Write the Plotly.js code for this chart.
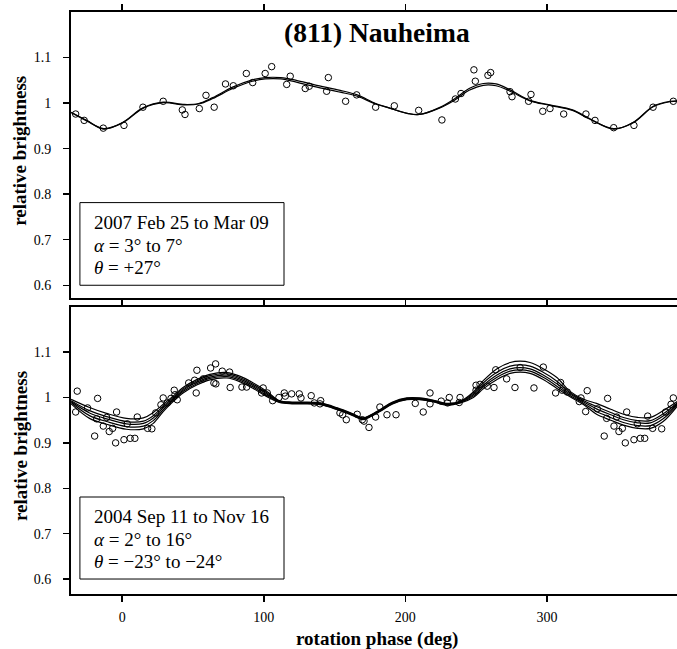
<!DOCTYPE html>
<html><head><meta charset="utf-8">
<script src="https://cdn.plot.ly/plotly-3.0.1.min.js"></script>
<style>html,body{margin:0;padding:0;overflow:hidden;background:#fff}</style>
</head><body><div id="chart" style="width:677px;height:649px"></div>
<script>
// ---- data ----
const xTickVals = [0, 100, 200, 300];
const yTickVals = [0.6, 0.7, 0.8, 0.9, 1.0, 1.1];
const yTickText = ['0.6', '0.7', '0.8', '0.9', '1', '1.1'];

// top panel: 2007 Feb 25 to Mar 09
const topPhase = [-32.8,-26.8,-13.3,1.3,14.7,29,42.5,44.4,54.5,59.2,65,73,78.5,87.7,92.2,101,105.6,116.2,118.7,129.3,132.1,144.4,145.6,157.8,165.6,179,192.2,209.4,225.8,235.3,239.3,248.4,249.4,258.3,260.2,273.9,275.3,287,288.7,297,302.1,311.8,327.5,333.9,347.1,361.4,374.9,389.2];
const topBright = [0.976,0.962,0.945,0.951,0.991,1.004,0.985,0.975,0.988,1.017,0.991,1.042,1.038,1.065,1.045,1.065,1.080,1.041,1.059,1.032,1.037,1.026,1.056,1.004,1.018,0.991,0.994,0.984,0.963,1.009,1.021,1.073,1.048,1.061,1.067,1.025,1.014,1.004,1.019,0.982,0.988,0.976,0.976,0.962,0.946,0.951,0.991,1.004];
const topCurvePhase = [-36,-25,-13,0,15,29,44,54,64,78,92,101,112,123,136,154,166,179,189,202,210,224,235,245,255,264,274,288,302,318,330,347,361,375,387,392];
const topCurveA = [0.980,0.962,0.943,0.957,0.990,1.002,0.997,0.999,1.012,1.035,1.051,1.056,1.056,1.050,1.040,1.028,1.018,0.999,0.989,0.977,0.975,0.990,1.010,1.032,1.043,1.042,1.029,1.006,0.996,0.985,0.966,0.943,0.958,0.993,1.004,1.005];
const topCurveB = [0.979,0.961,0.944,0.956,0.989,1.001,0.996,0.998,1.010,1.032,1.048,1.053,1.053,1.046,1.036,1.024,1.015,0.998,0.989,0.977,0.975,0.989,1.007,1.028,1.039,1.038,1.026,1.005,0.995,0.984,0.965,0.944,0.957,0.992,1.003,1.004];

// bottom panel: 2004 Sep 11 to Nov 16
const botPhase = [-31.7,-32.8,-24.4,-17.3,-18,-19.4,-13.3,-10.9,-9.1,-6.7,-3.9,-4.6,1.3,5.7,9,3.6,10.7,18,21,23.7,27.4,29,31.9,34.5,36.8,37.3,38.9,47,51.2,52.3,52.8,57.3,62.5,66,64.8,66.2,70.7,75.9,76.3,84.6,87.9,99.6,98.5,102.5,106.3,110.7,
  114.5,115.2,119.7,125.1,126.3,133.5,135.7,139.7,140.2,153.8,155.7,158.3,166,169.6,170.8,174.3,179,182,187,193.4,207,212.6,217.4,217.4,225.3,229.8,231,238,238.6,249.9,249.9,
  252.7,257.8,262.6,263.8,271.5,277.4,281,290.8,297.4,306.1,309.6,310.8,314.3,322.8,324,327.3,328.4,335.5,342.1,342.8,340.4,347.3,349.2,350.8,353.2,356.3,355.3,361.4,365.9,369,363.8,371.1,374.6,381,383.8,387.6,389.2];
const botBright = [1.014,0.968,0.977,0.998,0.953,0.915,0.937,0.956,0.925,0.932,0.968,0.900,0.907,0.910,0.910,0.942,0.957,0.932,0.931,0.966,0.984,0.999,0.988,0.998,1.016,1.006,0.995,1.032,1.038,1.010,1.060,1.041,1.065,1.074,1.032,1.030,1.058,1.056,1.022,1.023,1.023,1.021,1.010,1.010,0.993,1.000,
  1.010,1.003,1.008,1.008,0.999,1.004,0.988,0.986,0.993,0.966,0.962,0.951,0.963,0.951,0.948,0.934,0.957,0.979,0.962,0.962,0.987,0.968,1.010,0.986,0.992,0.988,1.000,0.989,1.000,1.027,1.016,
  1.029,1.025,1.022,1.061,1.041,1.022,1.066,1.021,1.067,1.010,1.033,1.016,1.012,0.991,0.999,0.969,1.015,0.975,0.954,0.998,0.915,0.937,0.957,0.925,0.932,0.968,0.900,0.907,0.910,0.910,0.942,0.959,0.932,0.931,0.968,0.985,0.999];
const botCurvePhase = [-36,-23,-11,3,15,22,29,36,43,53,62,74,83,92,102,111,120,128,140,152,163,170,175,182,191,201,210,220,229,239,248,255,265,274,281,288,297,307,316,326,335,345,354,364,373,382,392];
const botCurve1 = [0.996,0.978,0.965,0.954,0.955,0.967,0.985,1.003,1.022,1.040,1.051,1.055,1.047,1.033,1.014,0.993,0.990,0.990,0.988,0.977,0.964,0.955,0.961,0.973,0.990,0.999,0.999,0.994,0.987,0.992,1.012,1.037,1.064,1.077,1.080,1.077,1.064,1.044,1.014,0.996,0.987,0.974,0.963,0.956,0.956,0.971,0.991];
const botCurve2 = [0.993,0.971,0.958,0.947,0.948,0.960,0.981,1.000,1.019,1.037,1.048,1.052,1.044,1.030,1.011,0.992,0.989,0.989,0.987,0.976,0.963,0.954,0.960,0.972,0.989,0.998,0.998,0.993,0.986,0.991,1.009,1.032,1.056,1.069,1.072,1.069,1.056,1.036,1.011,0.993,0.980,0.967,0.956,0.949,0.949,0.964,0.988];
const botCurve3 = [0.991,0.966,0.953,0.942,0.943,0.955,0.977,0.997,1.016,1.034,1.045,1.049,1.041,1.027,1.008,0.991,0.988,0.988,0.986,0.975,0.962,0.953,0.959,0.971,0.988,0.997,0.997,0.992,0.985,0.990,1.006,1.027,1.050,1.063,1.066,1.063,1.050,1.030,1.008,0.990,0.975,0.962,0.951,0.944,0.944,0.959,0.986];
const botCurve4 = [0.989,0.960,0.947,0.936,0.937,0.949,0.973,0.994,1.013,1.031,1.042,1.046,1.038,1.024,1.005,0.990,0.987,0.987,0.985,0.974,0.961,0.952,0.958,0.970,0.987,0.996,0.996,0.991,0.984,0.989,1.003,1.023,1.045,1.058,1.061,1.058,1.045,1.025,1.005,0.987,0.969,0.956,0.945,0.938,0.938,0.953,0.984];
const botCurve5 = [0.986,0.954,0.941,0.930,0.931,0.943,0.969,0.991,1.010,1.028,1.039,1.043,1.035,1.021,1.002,0.989,0.986,0.986,0.984,0.973,0.960,0.951,0.957,0.969,0.986,0.995,0.995,0.990,0.983,0.988,1.000,1.019,1.040,1.053,1.056,1.053,1.040,1.020,1.002,0.984,0.963,0.950,0.939,0.932,0.932,0.947,0.981];

const topLegend = ['2007 Feb 25 to Mar 09', '<i>α</i> = 3° to 7°', '<i>θ</i> = +27°'];
const botLegend = ['2004 Sep 11 to Nov 16', '<i>α</i> = 2° to 16°', '<i>θ</i> = −23° to −24°'];

// ---- build ----
const SERIF = 'Liberation Serif, Times New Roman, serif';
const marker = {symbol: 'circle-open', size: 6.5, color: '#000', line: {width: 1, color: '#000'}};
const lineStyle = {color: '#000', width: 1.2, shape: 'spline', smoothing: 1};

const traces = [];
[topCurveA, topCurveB].forEach(c => traces.push({x: topCurvePhase, y: c, xaxis: 'x2', yaxis: 'y2', mode: 'lines', line: lineStyle, hoverinfo: 'skip'}));
traces.push({x: topPhase, y: topBright, xaxis: 'x2', yaxis: 'y2', mode: 'markers', marker: marker});
[botCurve1, botCurve2, botCurve3, botCurve4, botCurve5].forEach(c => traces.push({x: botCurvePhase, y: c, xaxis: 'x', yaxis: 'y', mode: 'lines', line: lineStyle, hoverinfo: 'skip'}));
traces.push({x: botPhase, y: botBright, xaxis: 'x', yaxis: 'y', mode: 'markers', marker: marker});

const xBase = {
  range: [-36.1, 391.8], tickvals: xTickVals, ticks: 'outside', ticklen: 6, tickwidth: 1.5, tickcolor: '#000',
  showline: true, linewidth: 2, linecolor: '#000', mirror: 'ticks', showgrid: false, zeroline: false,
  tickfont: {family: SERIF, size: 14, color: '#000'}, ticklabelstandoff: 3
};
const yBase = {
  tickvals: yTickVals, ticktext: yTickText, ticks: 'outside', ticklen: 6, tickwidth: 1.5, tickcolor: '#000',
  showline: true, linewidth: 2, linecolor: '#000', mirror: false, showgrid: false, zeroline: false,
  tickfont: {family: SERIF, size: 14, color: '#000'}, ticklabelstandoff: 9
};

const annotations = [];
function legendLines(lines, yref) {
  const ys = [0.7385, 0.6875, 0.639];
  lines.forEach((t, i) => annotations.push({
    text: t, xref: yref === 'y' ? 'x' : 'x2', yref: yref, x: -21.5, y: ys[i],
    xanchor: 'left', yanchor: 'middle', showarrow: false, font: {family: SERIF, size: 19, color: '#000'}
  }));
}
legendLines(topLegend, 'y2');
legendLines(botLegend, 'y');
annotations.push({text: '<b>(811) Nauheima</b>', xref: 'paper', yref: 'paper', x: 0.5045, y: 0.964,
  xanchor: 'center', yanchor: 'middle', showarrow: false, font: {family: SERIF, size: 27.5, color: '#000'}});
annotations.push({text: '<b>rotation phase (deg)</b>', xref: 'paper', yref: 'paper', x: 0.505, y: -0.0775,
  xanchor: 'center', yanchor: 'middle', showarrow: false, font: {family: SERIF, size: 19, color: '#000'}});
['y2 domain', 'y domain'].forEach(r => annotations.push({text: '<b>relative brightness</b>', xref: 'paper', yref: r,
  x: -0.0842, y: 0.515, xanchor: 'center', yanchor: 'middle', textangle: -90, showarrow: false,
  font: {family: SERIF, size: 19, color: '#000'}}));

const shapes = [
  {type: 'rect', xref: 'x2', yref: 'y2', x0: -29.8, x1: 114.3, y0: 0.6, y1: 0.7815, line: {color: '#000', width: 1}, fillcolor: 'rgba(0,0,0,0)'},
  {type: 'rect', xref: 'x', yref: 'y', x0: -29.8, x1: 114.3, y0: 0.6, y1: 0.7807, line: {color: '#000', width: 1}, fillcolor: 'rgba(0,0,0,0)'}
];

const layout = {
  width: 677, height: 649, showlegend: false,
  margin: {l: 71, r: 0, t: 12, b: 55},
  paper_bgcolor: '#fff', plot_bgcolor: '#fff',
  xaxis: Object.assign({}, xBase, {anchor: 'y'}),
  xaxis2: Object.assign({}, xBase, {anchor: 'y2', matches: 'x', showticklabels: false}),
  yaxis: Object.assign({}, yBase, {domain: [0, 0.4936], range: [0.567, 1.2]}),
  yaxis2: Object.assign({}, yBase, {domain: [0.5081, 1], range: [0.5714, 1.2]}),
  annotations: annotations, shapes: shapes
};

Plotly.newPlot('chart', traces, layout, {displayModeBar: false, staticPlot: true});
</script></body></html>
